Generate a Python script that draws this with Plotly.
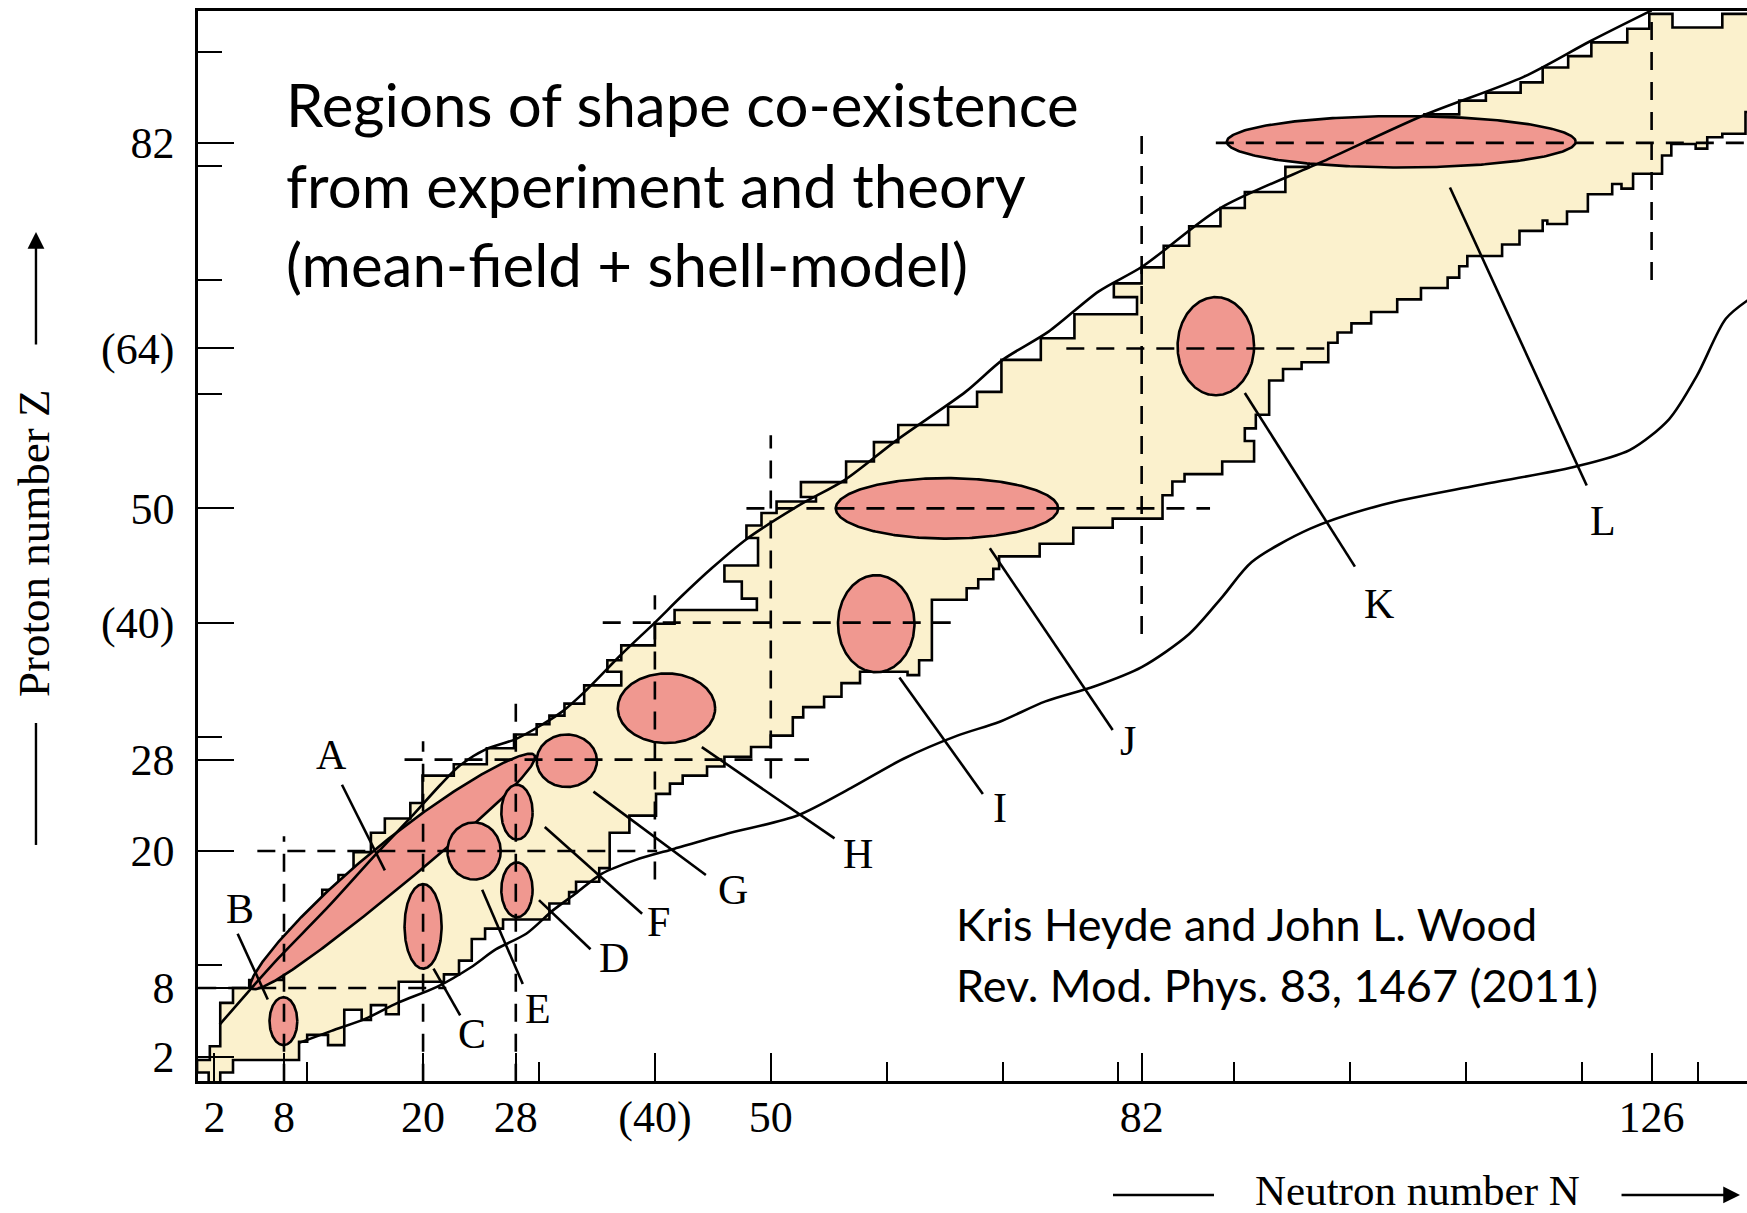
import numpy as np
import plotly.graph_objects as go

# ---------------- axis ticks ----------------
x_major_vals = [2, 8, 20, 28, 40, 50, 82, 126]
x_major_text = ["2", "8", "20", "28", "(40)", "50", "82", "126"]
x_minor_vals = [10, 30, 60, 70, 80, 90, 100, 110, 120, 130]
y_major_vals = [2, 8, 20, 28, 40, 50, 64, 82]
y_major_text = ["2", "8", "20", "28", "(40)", "50", "(64)", "82"]
y_minor_vals = [10, 30, 60, 70, 80, 90]

# ---------------- known-nuclei region (staircase) ----------------
region_start = (1.5, -0.5)  # (N, Z)
# proton-rich edge: (rise to Z, then move to N)
upper_steps = [
    (0.6, 0.5), (1.7, 1.6), (2.9, 2.5), (6.7, 3.6), (8.0, 5.0), (8.7, 7.9),
    (12.5, 8.5), (13.1, 9.2), (13.8, 10.2), (14.6, 11.3), (16.6, 12.7), (17.9, 14.0),
    (19.9, 15.5), (21.6, 16.7), (22.85, 18.9), (24.2, 19.95), (26.6, 22.65), (27.6, 25.5),
    (29.0, 27.85), (30.2, 29.8), (31.1, 30.9), (31.85, 32.2), (32.9, 33.9), (34.5, 37.1),
    (35.7, 35.9), (36.7, 37.1), (38.0, 40.0), (39.9, 41.7), (41.1, 48.8), (42.1, 47.5),
    (43.6, 46.0), (45.0, 48.9), (47.4, 47.9), (48.5, 49.2), (49.6, 50.5), (50.6, 53.9),
    (51.0, 52.6), (52.3, 56.5), (54.1, 58.9), (55.8, 61.0), (57.3, 65.3), (58.9, 67.8),
    (60.2, 69.9), (63.0, 73.3), (64.9, 76.2), (67.0, 81.6), (68.5, 79.6), (69.7, 82.0),
    (71.1, 83.9), (73.0, 86.1), (74.7, 88.8), (76.3, 90.9), (77.7, 94.4), (79.9, 96.4),
    (80.8, 99.0), (81.8, 101.5), (82.8, 104.0), (83.7, 106.4), (84.5, 109.4), (85.7, 111.7),
    (86.4, 114.7), (87.3, 116.6), (88.6, 118.8), (89.6, 120.8), (90.8, 123.9), (92.0, 125.8),
    (93.3, 127.8), (92.1, 132.1), (93.3, 136.0),
]
# neutron-rich edge: (move to N, then rise to Z)
lower_steps = [
    (2.5, 0.6), (3.6, 1.7), (9.3, 3.3), (10.0, 3.9), (11.8, 3.0), (13.2, 6.1),
    (14.7, 5.2), (15.5, 6.5), (16.8, 5.7), (17.9, 8.55), (21.8, 9.2), (23.1, 10.4),
    (24.2, 12.3), (25.35, 13.2), (26.9, 14.0), (30.9, 15.4), (32.6, 16.4), (33.2, 17.3),
    (35.2, 18.5), (36.1, 21.6), (37.8, 23.1), (40.1, 25.0), (41.3, 25.9), (42.4, 26.6),
    (44.5, 27.4), (46.0, 28.25), (48.3, 29.1), (50.0, 30.1), (51.9, 31.7), (52.8, 32.6),
    (54.6, 33.5), (56.1, 34.7), (57.7, 35.7), (61.8, 35.4), (62.8, 36.7), (63.9, 42.0),
    (66.9, 43.0), (67.9, 43.8), (69.2, 44.7), (69.7, 45.8), (73.2, 46.9), (76.1, 48.3),
    (79.5, 49.1), (83.8, 51.15), (84.65, 52.35), (85.7, 53.0), (88.95, 54.1), (91.7, 55.9),
    (90.9, 57.0), (91.85, 58.2), (93.0, 61.2), (94.2, 62.2), (95.8, 62.8), (98.1, 64.5),
    (98.9, 65.4), (100.1, 66.2), (101.8, 67.2), (104.05, 68.3), (106.1, 69.3), (108.4, 70.2),
    (109.4, 71.2), (110.1, 72.1), (113.1, 73.1), (114.6, 74.3), (116.6, 75.2), (117.0, 74.9),
    (118.7, 76.0), (120.5, 77.5), (122.6, 78.4), (123.4, 78.0), (124.4, 79.3), (126.9, 80.9),
    (127.7, 81.9), (129.8, 81.5), (130.8, 82.5), (132.1, 82.8), (134.1, 84.7), (136.0, 84.7),
]

# ---------------- drip lines ----------------
proton_drip_N = [2.45, 5.2, 7.6, 11.8, 16.1, 19.0, 21.5, 23.2, 25.4, 28.0, 30.0, 32.0, 34.0,
                 37.1, 40.0, 42.3, 44.9, 47.9, 52.5, 56.4, 60.9, 66.8, 70.0, 74.0, 78.3, 82.1,
                 88.8, 97.7, 106.3, 115.0, 120.7, 126.0]
proton_drip_Z = [4.8, 8.0, 10.7, 15.1, 19.9, 23.0, 25.8, 27.5, 28.9, 29.8, 30.9, 32.2, 34.0,
                 37.2, 40.0, 42.3, 44.75, 47.3, 50.3, 52.5, 56.0, 60.2, 63.0, 65.5, 69.0, 71.2,
                 76.3, 80.4, 84.4, 87.8, 90.9, 93.6]
neutron_drip_N = [9.3, 12.1, 15.0, 17.8, 21.2, 24.1, 26.3, 28.9, 31.2, 33.2, 35.4, 38.3, 41.7,
                  46.2, 52.3, 56.9, 61.5, 66.1, 69.7, 73.7, 77.9, 82.0, 86.1, 89.0, 91.5, 96.5,
                  102.7, 110.9, 119.2, 124.1, 127.5, 129.9, 132.4, 134.4]
neutron_drip_Z = [3.2, 4.25, 5.3, 6.7, 8.1, 9.8, 11.4, 12.75, 14.8, 16.3, 18.0, 19.2, 20.2,
                  21.5, 23.1, 25.5, 28.1, 30.1, 31.3, 33.1, 34.4, 36.1, 39.0, 42.3, 45.3, 48.2,
                  50.3, 52.0, 53.6, 55.1, 57.8, 61.6, 66.6, 68.3]

# ---------------- magic-number dashed lines ----------------
h_magic_Z = [8, 20, 28, 40, 50, 64, 82]
h_from_N = [0.6, 5.7, 18.4, 35.5, 47.9, 75.5, 88.4]
h_to_N = [22.0, 40.2, 53.3, 66.0, 87.9, 98.1, 134.3]
v_magic_N = [8, 20, 28, 40, 50, 82, 126]
v_from_Z = [-0.2, -0.2, -0.2, 17.5, 26.35, 39.0, 70.0]
v_to_Z = [21.3, 29.6, 33.0, 42.4, 56.4, 82.8, 93.6]

# ---------------- shape co-existence regions ----------------
A_tip_low = (5.16, 8.0)
A_tip_high = (29.6, 28.4)
A_half_width = 1.95
A_bend = 0.5
ell_names = ["B", "C", "D", "E", "F", "G", "H", "I", "J", "K", "L"]
ell_N = [7.95, 20.0, 28.1, 24.4, 28.1, 32.4, 41.0, 59.1, 65.2, 88.4, 104.4]
ell_Z = [5.1, 13.4, 16.6, 20.0, 23.4, 27.9, 32.5, 39.9, 50.0, 64.2, 82.1]
ell_rN = [1.2, 1.6, 1.35, 2.3, 1.35, 2.6, 4.2, 3.3, 9.6, 3.3, 15.05]
ell_rZ = [2.1, 3.7, 2.4, 2.5, 2.4, 2.3, 3.05, 4.25, 2.65, 4.3, 2.25]

# ---------------- labels and leader lines ----------------
label_names = ["A", "B", "C", "D", "E", "F", "G", "H", "I", "J", "K", "L"]
label_N = [12.1, 4.2, 24.2, 36.5, 29.9, 40.3, 46.7, 57.5, 69.8, 80.85, 102.45, 121.8]
label_Z = [28.4, 14.9, 3.95, 10.6, 6.15, 13.8, 16.6, 19.7, 23.8, 29.6, 41.6, 48.9]
leader_from_N = [13.0, 4.0, 20.9, 30.0, 25.1, 30.5, 34.7, 44.05, 61.1, 68.9, 90.9, 108.6]
leader_from_Z = [25.8, 12.75, 9.7, 15.7, 16.6, 22.1, 25.2, 29.1, 35.2, 46.5, 60.1, 78.1]
leader_to_N = [16.7, 6.6, 23.2, 34.45, 28.6, 38.9, 44.4, 55.5, 68.3, 79.5, 100.4, 120.4]
leader_to_Z = [18.3, 7.0, 5.6, 11.4, 8.35, 14.5, 17.9, 21.1, 25.0, 30.6, 44.9, 52.0]

title_lines = ["Regions of shape co-existence", "from experiment and theory",
               "(mean-field + shell-model)"]
cite_lines = ["Kris Heyde and John L. Wood", "Rev. Mod. Phys. 83, 1467 (2011)"]

# ---------------- colours / styles ----------------
YELLOW = "#FBF1CD"
SALMON = "#F09890"
BLACK = "black"
SERIF = "Liberation Serif, Times New Roman, serif"
SANS = "Lato, Open Sans, sans-serif"
LW = 2.6

# axis mapping (pixel layout)
X_RANGE = [0.58, 134.23]
Y_RANGE = [-0.14, 93.55]

fig = go.Figure()

# staircase polygon
n0, z0 = region_start
ux, uy = [n0], [z0]
n, z = n0, z0
for zz, nn in upper_steps:
    ux += [n, nn]
    uy += [zz, zz]
    n = nn
lx, ly = [n0], [z0]
n, z = n0, z0
for nn, zz in lower_steps:
    lx += [nn, nn]
    ly += [z, zz]
    z = zz
poly_x = ux + lx[::-1]
poly_y = uy + ly[::-1]
fig.add_trace(go.Scatter(x=poly_x, y=poly_y, mode="lines", fill="toself",
                         fillcolor=YELLOW, line=dict(color=BLACK, width=LW),
                         hoverinfo="skip"))

# ellipse A (elongated, slightly bent)
t = np.linspace(0, 2 * np.pi, 300)
p1 = np.array(A_tip_low)
p2 = np.array(A_tip_high)
c = (p1 + p2) / 2
d = p2 - p1
a = np.linalg.norm(d) / 2
u = d / np.linalg.norm(d)
v = np.array([-u[1], u[0]])
s = a * np.cos(t)
w = A_half_width * np.sin(t) + A_bend * np.sin(t) ** 2
ax_ = c[0] + s * u[0] + w * v[0]
ay_ = c[1] + s * u[1] + w * v[1]
fig.add_trace(go.Scatter(x=ax_, y=ay_, mode="lines", fill="toself", fillcolor=SALMON,
                         line=dict(color=BLACK, width=LW), hoverinfo="skip"))

for cx, cy, rx, ry in zip(ell_N, ell_Z, ell_rN, ell_rZ):
    fig.add_trace(go.Scatter(x=cx + rx * np.cos(t), y=cy + ry * np.sin(t), mode="lines",
                             fill="toself", fillcolor=SALMON,
                             line=dict(color=BLACK, width=LW), hoverinfo="skip"))

# dashed magic lines
dash = "18px,12px"
for zz, a0, a1 in zip(h_magic_Z, h_from_N, h_to_N):
    fig.add_trace(go.Scatter(x=[a0, a1], y=[zz, zz], mode="lines",
                             line=dict(color=BLACK, width=LW, dash=dash), hoverinfo="skip"))
for nn, b0, b1 in zip(v_magic_N, v_from_Z, v_to_Z):
    fig.add_trace(go.Scatter(x=[nn, nn], y=[b0, b1], mode="lines",
                             line=dict(color=BLACK, width=LW, dash=dash), hoverinfo="skip"))

# drip lines
fig.add_trace(go.Scatter(x=proton_drip_N, y=proton_drip_Z, mode="lines",
                         line=dict(color=BLACK, width=LW, shape="spline", smoothing=0.8),
                         hoverinfo="skip"))
fig.add_trace(go.Scatter(x=neutron_drip_N, y=neutron_drip_Z, mode="lines",
                         line=dict(color=BLACK, width=LW, shape="spline", smoothing=0.8),
                         hoverinfo="skip"))

# leader lines
lx_, ly_ = [], []
for a0, b0, a1, b1 in zip(leader_from_N, leader_from_Z, leader_to_N, leader_to_Z):
    lx_ += [a0, a1, None]
    ly_ += [b0, b1, None]
fig.add_trace(go.Scatter(x=lx_, y=ly_, mode="lines", line=dict(color=BLACK, width=LW),
                         hoverinfo="skip"))

annotations = []
for name, nn, zz in zip(label_names, label_N, label_Z):
    annotations.append(dict(x=nn, y=zz, xref="x", yref="y", text=name, showarrow=False,
                            xanchor="center", yanchor="middle",
                            font=dict(family=SERIF, size=42, color=BLACK)))

title_Z = [85.4, 78.3, 71.4]
for line, zz in zip(title_lines, title_Z):
    annotations.append(dict(x=8.0, y=zz, xref="x", yref="y", text=line, showarrow=False,
                            xanchor="left", yanchor="middle",
                            font=dict(family=SANS, size=60, color=BLACK)))
cite_Z = [13.6, 8.3]
for line, zz in zip(cite_lines, cite_Z):
    annotations.append(dict(x=65.8, y=zz, xref="x", yref="y", text=line, showarrow=False,
                            xanchor="left", yanchor="middle",
                            font=dict(family=SANS, size=45, color=BLACK)))

# axis titles (outside the plot, paper coords)
annotations.append(dict(x=-0.1059, y=0.5028, xref="paper", yref="paper",
                        text="Proton number Z", textangle=-90, showarrow=False,
                        xanchor="center", yanchor="middle",
                        font=dict(family=SERIF, size=45, color=BLACK)))
annotations.append(dict(x=0.7876, y=-0.1028, xref="paper", yref="paper",
                        text="Neutron number N", showarrow=False,
                        xanchor="center", yanchor="middle",
                        font=dict(family=SERIF, size=43, color=BLACK)))
annotations.append(dict(x=-0.1046, y=0.7935, xref="paper", yref="paper", text="",
                        showarrow=True, ax=0, ay=114, arrowhead=2, arrowsize=1.4,
                        arrowwidth=2.4, arrowcolor=BLACK))
annotations.append(dict(x=0.9955, y=-0.1065, xref="paper", yref="paper", text="",
                        showarrow=True, ax=-120, ay=0, arrowhead=2, arrowsize=1.4,
                        arrowwidth=2.4, arrowcolor=BLACK))

shapes = [
    dict(type="line", xref="paper", yref="paper", x0=-0.1046, x1=-0.1046,
         y0=0.3346, y1=0.2206, line=dict(color=BLACK, width=2.4)),
    dict(type="line", xref="paper", yref="paper", x0=0.5907, x1=0.6559,
         y0=-0.1065, y1=-0.1065, line=dict(color=BLACK, width=2.4)),
]

fig.update_layout(
    width=1747, height=1213,
    margin=dict(l=198, r=0, t=11, b=132, pad=0),
    paper_bgcolor="white", plot_bgcolor="white",
    showlegend=False,
    annotations=annotations,
    shapes=shapes,
    xaxis=dict(range=X_RANGE, showgrid=False, zeroline=False, showline=True,
               linecolor=BLACK, linewidth=2.6, mirror=True,
               tickmode="array", tickvals=x_major_vals, ticktext=x_major_text,
               ticks="inside", ticklen=28, tickwidth=2.2, tickcolor=BLACK,
               ticklabelstandoff=-5,
               tickfont=dict(family=SERIF, size=44, color=BLACK),
               minor=dict(tickmode="array", tickvals=x_minor_vals, ticks="inside",
                          ticklen=19, tickwidth=2.2, tickcolor=BLACK, showgrid=False)),
    yaxis=dict(range=Y_RANGE, showgrid=False, zeroline=False, showline=True,
               linecolor=BLACK, linewidth=2.6, mirror=False,
               tickmode="array", tickvals=y_major_vals, ticktext=y_major_text,
               ticks="inside", ticklen=36, tickwidth=2.2, tickcolor=BLACK,
               ticklabelstandoff=12,
               tickfont=dict(family=SERIF, size=44, color=BLACK),
               minor=dict(tickmode="array", tickvals=y_minor_vals, ticks="inside",
                          ticklen=24, tickwidth=2.2, tickcolor=BLACK, showgrid=False)),
)

fig.write_html("out.html")
